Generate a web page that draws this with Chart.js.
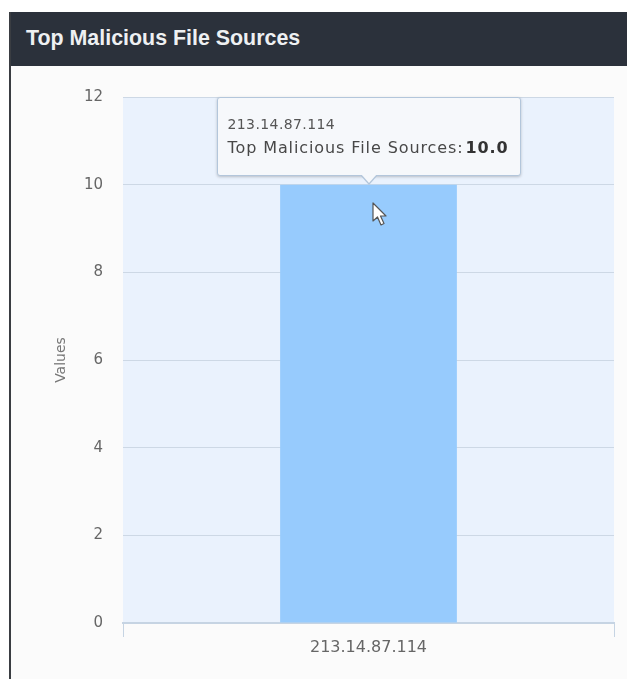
<!DOCTYPE html>
<html>
<head>
<meta charset="utf-8">
<title>Top Malicious File Sources</title>
<script src="https://cdn.jsdelivr.net/npm/chart.js@4/dist/chart.umd.min.js"></script>
<style>
  html, body { margin: 0; padding: 0; background: #ffffff; }
  body { width: 627px; height: 679px; position: relative; overflow: hidden; font-family: "DejaVu Sans", sans-serif; }
  .panel { position: absolute; left: 9px; top: 12px; right: 0; bottom: 0; background: #fbfbfb; border-left: 2px solid #3a3d42; }
  .panel-head { height: 54px; background: #2b313b; color: #eef0f2; font: bold 21.4px "Liberation Sans", Arial, sans-serif; display: flex; align-items: center; padding-left: 15px; padding-bottom: 2px; box-sizing: border-box; }
  #wrap { position: absolute; left: 0; top: 0; width: 627px; height: 679px; }
  #tip { position: absolute; display: none; background: #f6f8fb; border: 1px solid #b3c6db; border-radius: 3px; box-shadow: 0 1px 3px rgba(0,0,0,0.22); padding: 17px 10px 0 10px; box-sizing: border-box; color: #444; white-space: nowrap; }
  #tip .t { font-size: 14px; letter-spacing: 0.4px; color: #555; line-height: 18px; }
  #tip .b { font-size: 16px; letter-spacing: 0.9px; color: #484848; line-height: 24px; margin-top: 3px; }
  #tip .b strong { color: #333; margin-left: 2px; }
  #tip:before, #tip:after { content: ""; position: absolute; left: 50%; width: 0; height: 0; border-style: solid; }
  #tip:before { bottom: -10px; margin-left: -9px; border-width: 10px 9px 0 9px; border-color: #b3c6db transparent transparent transparent; }
  #tip:after { bottom: -8px; margin-left: -8px; border-width: 9px 8px 0 8px; border-color: #f6f8fb transparent transparent transparent; }
  #cursor { position: absolute; left: 372px; top: 202px; }
</style>
</head>
<body>
<div class="panel"><div class="panel-head">Top Malicious File Sources</div></div>
<div id="wrap"><canvas id="chart" width="627" height="679"></canvas></div>
<div id="tip"></div>
<svg id="cursor" width="16" height="26" viewBox="0 0 16 26">
  <path d="M1 1 L1 19 L5.5 15 L9 23 L12 21.5 L8.5 14 L14 14 Z" fill="#ffffff" stroke="#555" stroke-width="1.2" stroke-linejoin="round"/>
</svg>

<script>
// ---------- Data ----------
const categories = ["213.14.87.114"];
const seriesName = "Top Malicious File Sources";
const seriesValues = [10];
const yTicks = [0, 2, 4, 6, 8, 10, 12];

// light blue background behind the plot area
const plotBg = {
  id: "plotBg",
  beforeDraw(chart) {
    const { ctx, chartArea: a } = chart;
    ctx.save();
    ctx.fillStyle = "#eaf2fd";
    ctx.fillRect(a.left, a.top, a.right - a.left, a.bottom - a.top);
    ctx.restore();
  }
};

// ---------- HTML tooltip (label + bold value) ----------
function externalTip(context) {
  const tip = document.getElementById("tip");
  const model = context.tooltip;
  if (!model || model.opacity === 0 || !model.dataPoints || !model.dataPoints.length) {
    tip.style.display = "none";
    return;
  }
  const p = model.dataPoints[0];
  tip.innerHTML =
    `<div class="t">${p.label}</div>` +
    `<div class="b">${p.dataset.label}:<strong>${Number(p.raw).toFixed(1)}</strong></div>`;
  tip.style.display = "block";
  tip.style.width = "304px";
  tip.style.height = "79px";
  const rect = context.chart.canvas.getBoundingClientRect();
  tip.style.left = (rect.left + model.caretX - 152) + "px";
  tip.style.top = (rect.top + model.caretY - 88) + "px";
}

const chart = new Chart(document.getElementById("chart"), {
  type: "bar",
  data: {
    labels: categories,
    datasets: [{
      label: seriesName,
      data: seriesValues,
      backgroundColor: "#97cbfd",
      hoverBackgroundColor: "#97cbfd",
      borderWidth: 0,
      barPercentage: 0.36,
      categoryPercentage: 1
    }]
  },
  options: {
    responsive: false,
    animation: false,
    events: [],
    layout: { padding: { top: 97, right: 13, left: 0, bottom: 0 } },
    plugins: {
      legend: { display: false },
      tooltip: { enabled: false, external: externalTip }
    },
    scales: {
      x: {
        offset: true,
        grid: { display: true, offset: true, drawOnChartArea: false, drawTicks: true, tickLength: 14, color: "#c6d4e3", lineWidth: 1 },
        border: { display: true, color: "#c6d4e3", width: 2 },
        ticks: { color: "#666", font: { family: "DejaVu Sans", size: 16 }, padding: 1 },
        afterFit(scale) { scale.height = 56; }
      },
      y: {
        min: 0,
        max: 12,
        afterBuildTicks(scale) { scale.ticks = yTicks.map(v => ({ value: v })); },
        grid: { color: "#cdd8e5", drawTicks: false, lineWidth: 1 },
        border: { display: false },
        ticks: { color: "#666", font: { family: "DejaVu Sans", size: 15 }, padding: 20 },
        title: {
          display: true,
          text: "Values",
          color: "#777",
          font: { family: "DejaVu Sans", size: 14 },
          padding: { top: 53, bottom: 0 }
        },
        afterFit(scale) { scale.width = 123; }
      }
    }
  },
  plugins: [plotBg]
});

// show the tooltip for the single bar
chart.tooltip.setActiveElements([{ datasetIndex: 0, index: 0 }], { x: 369, y: 300 });
chart.update();
</script>
</body>
</html>
